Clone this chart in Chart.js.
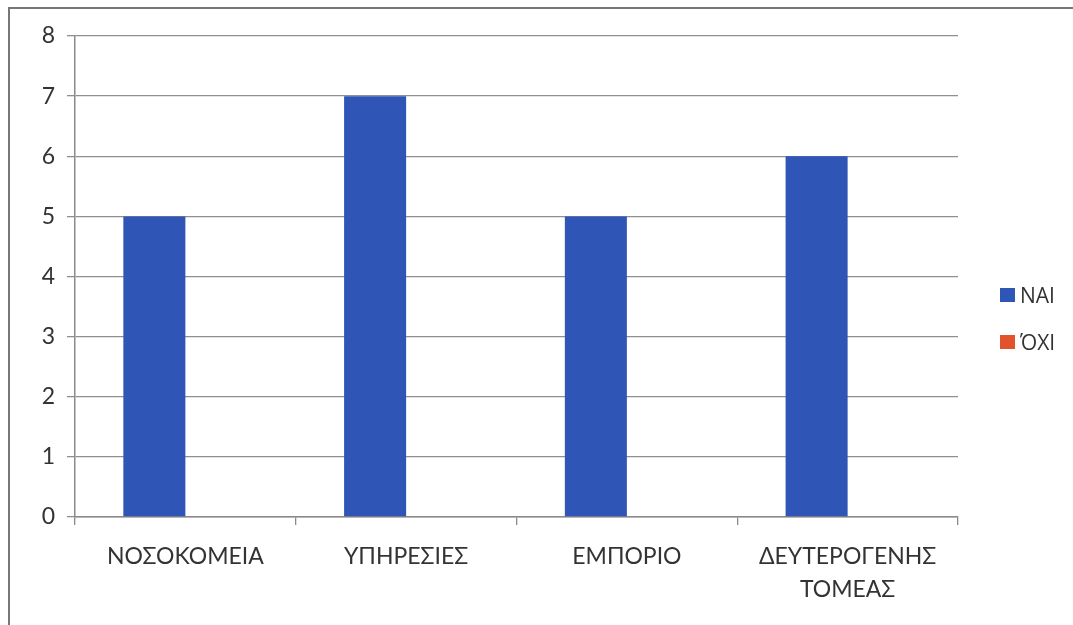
<!DOCTYPE html>
<html>
<head>
<meta charset="utf-8">
<script src="https://cdn.jsdelivr.net/npm/chart.js@4"></script>
<style>
	body { margin:0; background:#fff; }
	#wrap { position:relative; width:1073px; height:625px; overflow:hidden; }
	#frame { position:absolute; left:8px; top:7px; width:2000px; height:2000px; border-left:2px solid #777; border-top:2px solid #777; }
	#leg { position:absolute; left:1000px; top:271px; font:21px 'Open Sans', Lato, sans-serif; color:#333; }
	#leg div { display:flex; align-items:center; height:47px; }
	#leg span { display:inline-block; width:15px; height:14px; margin-right:5px; }
</style>
</head>
<body>
<div id="wrap">
	<div id="frame"></div>
	<canvas id="c" width="1073" height="625"></canvas>
	<div id="leg"></div>
</div>
<script>
const kategori = ['ΝΟΣΟΚΟΜΕΙΑ', 'ΥΠΗΡΕΣΙΕΣ', 'ΕΜΠΟΡΙΟ', ['ΔΕΥΤΕΡΟΓΕΝΗΣ', 'ΤΟΜΕΑΣ']]
const nai = [5, 7, 5, 6]
const oxi = [0, 0, 0, 0]
const seriNama = ['ΝΑΙ', 'ΌΧΙ']
const warna = ['#2F55B6', '#E2532B']

const font = { family: "Lato, 'Open Sans', sans-serif", size: 23, lineHeight: 1.45 }

const c = new Chart(document.getElementById('c'), {
	type: 'bar',
	data: {
		labels: kategori,
		datasets: [
			{ label: seriNama[0], data: nai, backgroundColor: warna[0], borderWidth: 0 },
			{ label: seriNama[1], data: oxi, backgroundColor: warna[1], borderWidth: 0 },
		]
	},
	options: {
		responsive: false,
		animation: false,
		categoryPercentage: 0.562,
		barPercentage: 1,
		layout: { padding: { top: 36, right: 115, left: 0, bottom: 0 } },
		plugins: {
			legend: { display: false },
			tooltip: { enabled: false },
		},
		scales: {
			y: {
				min: 0, max: 8,
				afterFit: s => { s.width = 75 },
				border: { color: '#8a8a8a', width: 1.5 },
				grid: { color: '#8f8f8f', lineWidth: 1.3, tickLength: 8 },
				ticks: { stepSize: 1, color: '#333', font: font, padding: 12 },
			},
			x: {
				afterFit: s => { s.height = 625 - 517 },
				border: { color: '#8a8a8a', width: 1.5 },
				grid: { drawOnChartArea: false, color: '#8a8a8a', lineWidth: 1.3, tickLength: 8 },
				ticks: { color: '#333', font: font, padding: 15, maxRotation: 0, autoSkip: false },
			}
		}
	}
});

(a => {
	c.data.datasets.forEach(d => {
		const r = document.createElement('div')
		r.innerHTML = `<span style="background:${d.backgroundColor}"></span>${d.label}`
		a.appendChild(r)
	})
})(document.getElementById('leg'))
</script>
</body>
</html>
